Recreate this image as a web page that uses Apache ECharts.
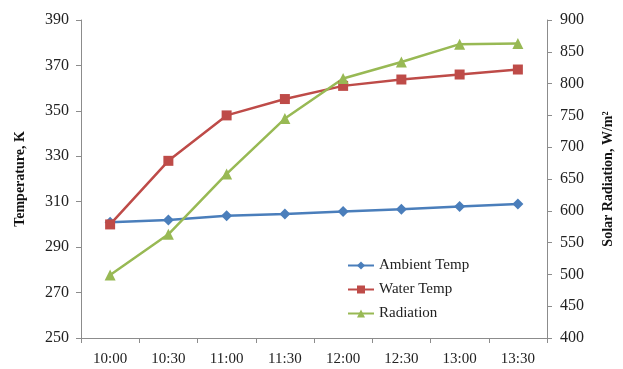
<!DOCTYPE html>
<html><head><meta charset="utf-8">
<script src="https://cdn.jsdelivr.net/npm/echarts@6/dist/echarts.min.js"></script>
<style>html,body{margin:0;padding:0;background:#fff}#c{width:623px;height:369px}</style>
</head><body><div id="c"></div>
<script>
var categories = ['10:00','10:30','11:00','11:30','12:00','12:30','13:00','13:30'];
var ambientTemp = [301, 302, 303.8, 304.6, 305.7, 306.7, 307.9, 309];
var waterTemp = [300, 328, 348, 355.2, 361, 363.8, 366, 368.2];
var radiation = [499, 563, 658, 745, 808, 834, 862, 863];
var leftTicks = [250, 390, 20];
var rightTicks = [400, 900, 50];

var font = '"Liberation Serif", "DejaVu Serif", serif';
var chart = echarts.init(document.getElementById('c'));
var axisLine = {show: true, lineStyle: {color: '#8c8c8c', width: 1}};
chart.setOption({
  animation: false,
  textStyle: {fontFamily: font},
  grid: {left: 81, right: 72, top: 20, bottom: 31, containLabel: false},
  legend: {
    orient: 'vertical', left: 342, top: 253, itemGap: 9, itemWidth: 26, itemHeight: 10,
    textStyle: {fontFamily: font, fontSize: 15, color: '#222'},
    data: ['Ambient Temp', 'Water Temp', 'Radiation']
  },
  xAxis: {
    type: 'category', data: categories, boundaryGap: true,
    axisLine: axisLine, axisTick: {show: true, length: 5, lineStyle: {color: '#8c8c8c'}},
    axisLabel: {fontFamily: font, fontSize: 15, color: '#222', margin: 14},
    splitLine: {show: false}
  },
  yAxis: [{
    type: 'value', min: leftTicks[0], max: leftTicks[1], interval: leftTicks[2],
    name: 'Temperature, K', nameLocation: 'middle', nameGap: 54, nameRotate: 90,
    nameTextStyle: {fontFamily: font, fontSize: 14, fontWeight: 'bold', color: '#111'},
    axisLine: axisLine, axisTick: {show: true, length: 5, lineStyle: {color: '#8c8c8c'}},
    axisLabel: {fontFamily: font, fontSize: 16, color: '#222', margin: 12},
    splitLine: {show: false}
  }, {
    type: 'value', min: rightTicks[0], max: rightTicks[1], interval: rightTicks[2], position: 'right',
    name: 'Solar Radiation, W/m²', nameLocation: 'middle', nameGap: 54, nameRotate: 90,
    nameTextStyle: {fontFamily: font, fontSize: 14, fontWeight: 'bold', color: '#111'},
    axisLine: axisLine, axisTick: {show: true, length: 5, lineStyle: {color: '#8c8c8c'}},
    axisLabel: {fontFamily: font, fontSize: 16, color: '#222', margin: 13},
    splitLine: {show: false}
  }],
  series: [{
    name: 'Ambient Temp', type: 'line', yAxisIndex: 0, data: ambientTemp,
    symbol: 'diamond', symbolSize: 11, color: '#4a7ebb',
    lineStyle: {width: 2.5, color: '#4a7ebb'}, itemStyle: {color: '#4a7ebb'}
  }, {
    name: 'Water Temp', type: 'line', yAxisIndex: 0, data: waterTemp,
    symbol: 'rect', symbolSize: 10, color: '#be4b48',
    lineStyle: {width: 2.5, color: '#be4b48'}, itemStyle: {color: '#be4b48'}
  }, {
    name: 'Radiation', type: 'line', yAxisIndex: 1, data: radiation,
    symbol: 'triangle', symbolSize: 11, color: '#98b954',
    lineStyle: {width: 2.5, color: '#98b954'}, itemStyle: {color: '#98b954'}
  }]
});
</script></body></html>
